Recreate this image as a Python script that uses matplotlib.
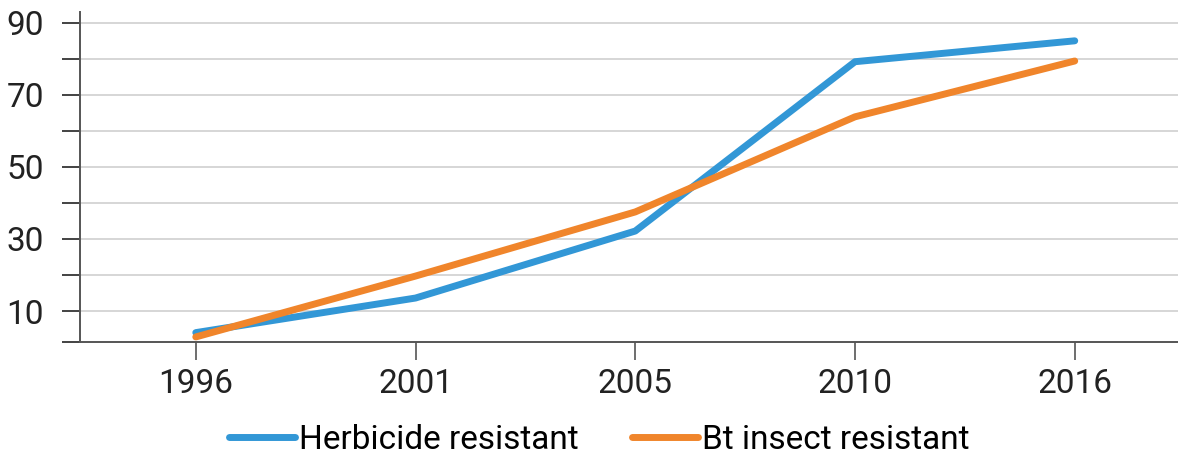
import numpy as np
import matplotlib
matplotlib.use('Agg')
import matplotlib.pyplot as plt

# Datos (porcentaje de superficie)
years = ['1996', '2001', '2005', '2010', '2016']
herbicide = [4, 13.6, 32.2, 79.2, 85]
bt_insect = [2.8, 19.7, 37.5, 63.9, 79.4]

plt.rcParams['font.family'] = ['Roboto', 'DejaVu Sans']

fig = plt.figure(figsize=(11.78, 4.58), dpi=100)
ax = fig.add_axes([0.0679, 0.2533, 0.9321, 0.7205])

x = np.arange(len(years))
ax.plot(x, herbicide, color='#3297d6', lw=5, solid_capstyle='round',
        solid_joinstyle='round', label='Herbicide resistant', zorder=3)
ax.plot(x, bt_insect, color='#f0852b', lw=5, solid_capstyle='round',
        solid_joinstyle='round', label='Bt insect resistant', zorder=4)

ymin, ymax = 1.4, 93
ax.set_ylim(ymin, ymax)
ax.set_xlim(-0.527, 4.47)

yt = [ymin] + list(range(10, 100, 10))
ax.set_yticks(yt)
ax.set_yticklabels([''] + [str(v) if v % 20 == 10 else '' for v in range(10, 100, 10)])
ax.set_xticks(x)
ax.set_xticklabels(years)

for v in range(10, 100, 10):
    ax.axhline(v, color='#cfcfcf', lw=1.2, zorder=1)

for s in ['top', 'right']:
    ax.spines[s].set_visible(False)
for s in ['left', 'bottom']:
    ax.spines[s].set_color('#555555')
    ax.spines[s].set_linewidth(1.4)

ax.tick_params(axis='y', length=13, width=1.2, color='#222222', pad=13,
               labelsize=24, labelcolor='#222222')
ax.tick_params(axis='x', length=13, width=1.2, color='#555555', pad=6,
               labelsize=24, labelcolor='#222222')

ax.legend(loc='center', bbox_to_anchor=(0.4727, -0.297), ncol=2,
          frameon=False, fontsize=24, handlelength=2.0, handletextpad=0.1,
          columnspacing=1.6, borderpad=0)

plt.savefig('out.png', dpi=100)
